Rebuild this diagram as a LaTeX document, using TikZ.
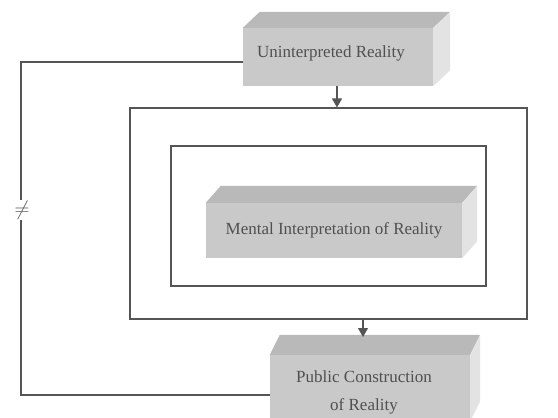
\documentclass[tikz,border=0pt]{standalone}
\usepackage{fontspec}
\setmainfont{Liberation Serif}
\usetikzlibrary{arrows.meta,calc}
\definecolor{ln}{HTML}{555555}
\definecolor{txt}{HTML}{505050}
\tikzset{
  frame/.style={draw=ln,line width=1.1pt,rectangle,inner sep=0pt},
  front/.style={rectangle,fill=gray!42,inner sep=0pt,text=txt,font=\fontsize{17}{28}\selectfont,align=center},
  topface/.style={fill=gray!55},
  sideface/.style={fill=gray!22},
  conn/.style={draw=ln,line width=1.1pt},
  arr/.style={conn,-{Triangle[length=9pt,width=10pt]}}
}
\begin{document}
\begin{tikzpicture}[x=1pt,y=-1pt]
\useasboundingbox (0,0) rectangle (558,418);
% outer and inner frames
\node[frame,minimum width=397pt,minimum height=211pt] (outer) at (328.5,213.5) {};
\node[frame,minimum width=315pt,minimum height=140pt] (inner) at (328.5,216) {};
% top box
\node[front,minimum width=190pt,minimum height=58pt] (top) at (338,57) {};
\node[text=txt,font=\fontsize{17}{20}\selectfont,inner sep=0pt] (toptext) at (331,53) {Uninterpreted Reality};
\fill[topface] (top.north west) -- ++(17,-16) -- ($(top.north east)+(17,-16)$) -- (top.north east) -- cycle;
\fill[sideface] (top.north east) -- ++(17,-16) -- ($(top.south east)+(17,-16)$) -- (top.south east) -- cycle;
% middle box
\node[front,minimum width=256pt,minimum height=55pt] (mid) at (334,230.5) {Mental Interpretation of Reality};
\fill[topface] (mid.north west) -- ++(15,-17) -- ($(mid.north east)+(15,-17)$) -- (mid.north east) -- cycle;
\fill[sideface] (mid.north east) -- ++(15,-17) -- ($(mid.south east)+(15,-17)$) -- (mid.south east) -- cycle;
% bottom box
\node[front,minimum width=200pt,minimum height=66pt] (bot) at (370,388) {};
\node[text=txt,font=\fontsize{17}{28}\selectfont,align=center,inner sep=0pt] (bottext) at (364,392) {Public Construction\\of Reality};
\fill[topface] (bot.north west) -- ++(10,-20) -- ($(bot.north east)+(10,-20)$) -- (bot.north east) -- cycle;
\fill[sideface] (bot.north east) -- ++(10,-20) -- ($(bot.south east)+(10,-20)$) -- (bot.south east) -- cycle;
\coordinate (bottop) at (363,337);
% arrows
\draw[arr] (top.south -| 337,0) -- (outer.north -| 337,0);
\draw[arr] (outer.south -| 363,0) -- (bottop);
% left feedback line with inequality
\node[inner sep=1pt,text=ln,font=\fontsize{20}{20}\selectfont] (ne) at (22,210) {$\neq$};
\coordinate (tl) at (243,62);
\coordinate (bl) at (270,395);
\draw[conn] (tl) -| (ne.north -| 21,0);
\draw[conn] (ne.south -| 21,0) |- (bl);
\end{tikzpicture}
\end{document}
